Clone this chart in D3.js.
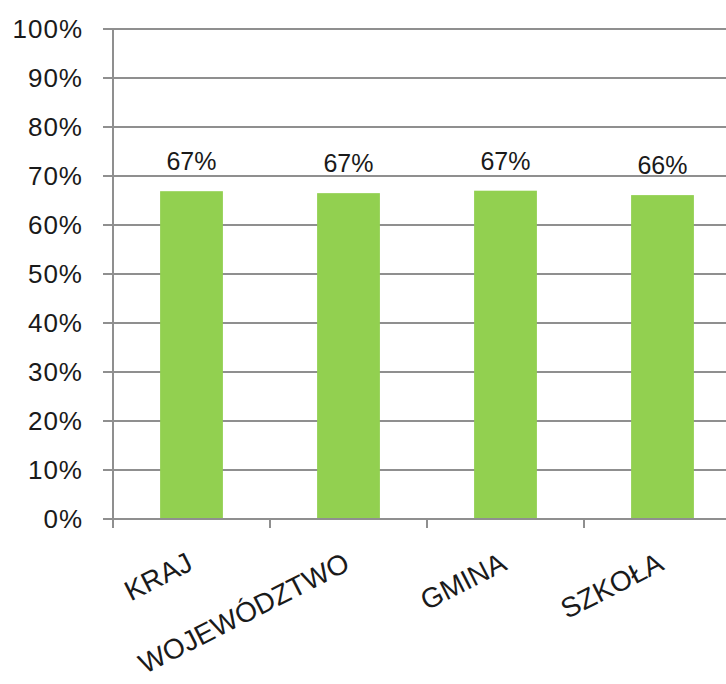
<!DOCTYPE html>
<html>
<head>
<meta charset="utf-8">
<script src="https://cdn.jsdelivr.net/npm/d3@7"></script>
<style>
  html, body { margin: 0; padding: 0; background: #fff; overflow: hidden; }
  text { font-family: "Liberation Sans", Arial, sans-serif; fill: #1a1a1a; }
</style>
</head>
<body>
<script>
// chart data
const categories = ["KRAJ", "WOJEWÓDZTWO", "GMINA", "SZKOŁA"];
const values = [0.669, 0.665, 0.670, 0.661];
const valueLabels = ["67%", "67%", "67%", "66%"];
const yTicks = [0, 0.1, 0.2, 0.3, 0.4, 0.5, 0.6, 0.7, 0.8, 0.9, 1.0];

const W = 726, H = 684;
// plot area runs a little past the right edge, like the cropped original
const margin = {top: 29, left: 113, bottom: 165, right: -15};
const plotW = W - margin.left - margin.right;
const plotH = H - margin.top - margin.bottom;

const svg = d3.select("body").append("svg")
  .attr("width", W)
  .attr("height", H);

const g = svg.append("g")
  .attr("transform", "translate(" + margin.left + "," + margin.top + ")");

const x = d3.scaleBand()
  .domain(categories)
  .range([0, plotW])
  .paddingInner(0.6)
  .paddingOuter(0.3);

const y = d3.scaleLinear()
  .domain([0, 1])
  .range([plotH, 0]);

// gridlines + left ticks
g.append("g")
  .selectAll("line")
  .data(yTicks)
  .enter().append("line")
  .attr("x1", -10)
  .attr("x2", plotW)
  .attr("y1", d => y(d))
  .attr("y2", d => y(d))
  .attr("stroke", "#8f8f8f")
  .attr("stroke-width", 2);

// y tick labels
g.append("g")
  .selectAll("text")
  .data(yTicks)
  .enter().append("text")
  .attr("x", -30)
  .attr("y", d => y(d))
  .attr("dy", "0.36em")
  .attr("text-anchor", "end")
  .style("font-size", "26px")
  .style("letter-spacing", "1px")
  .text(d => d3.format(".0%")(d));

// bars
g.append("g")
  .selectAll("rect")
  .data(values)
  .enter().append("rect")
  .attr("x", (d, i) => x(categories[i]))
  .attr("y", d => y(d))
  .attr("width", x.bandwidth())
  .attr("height", d => plotH - y(d))
  .attr("fill", "#92d050");

// value labels
g.append("g")
  .selectAll("text")
  .data(values)
  .enter().append("text")
  .attr("x", (d, i) => x(categories[i]) + x.bandwidth() / 2)
  .attr("y", d => y(d) - 21)
  .attr("text-anchor", "middle")
  .style("font-size", "25px")
  .text((d, i) => valueLabels[i]);

// axes lines
g.append("line")
  .attr("x1", 0).attr("x2", 0)
  .attr("y1", 0).attr("y2", plotH)
  .attr("stroke", "#8f8f8f")
  .attr("stroke-width", 2);

g.append("line")
  .attr("x1", 0).attr("x2", plotW)
  .attr("y1", plotH).attr("y2", plotH)
  .attr("stroke", "#8f8f8f")
  .attr("stroke-width", 2);

// category boundary ticks
g.append("g")
  .selectAll("line")
  .data(categories)
  .enter().append("line")
  .attr("x1", d => x(d) - x.step() * 0.3)
  .attr("x2", d => x(d) - x.step() * 0.3)
  .attr("y1", plotH)
  .attr("y2", plotH + 9)
  .attr("stroke", "#8f8f8f")
  .attr("stroke-width", 2);

// rotated category labels
g.append("g")
  .selectAll("text")
  .data(categories)
  .enter().append("text")
  .attr("transform", d => "translate(" + (x(d) + x.bandwidth() / 2 + 3) + "," + (plotH + 50) + ") rotate(-27)")
  .attr("text-anchor", "end")
  .style("font-size", "28px")
  .text(d => d);
</script>
</body>
</html>
